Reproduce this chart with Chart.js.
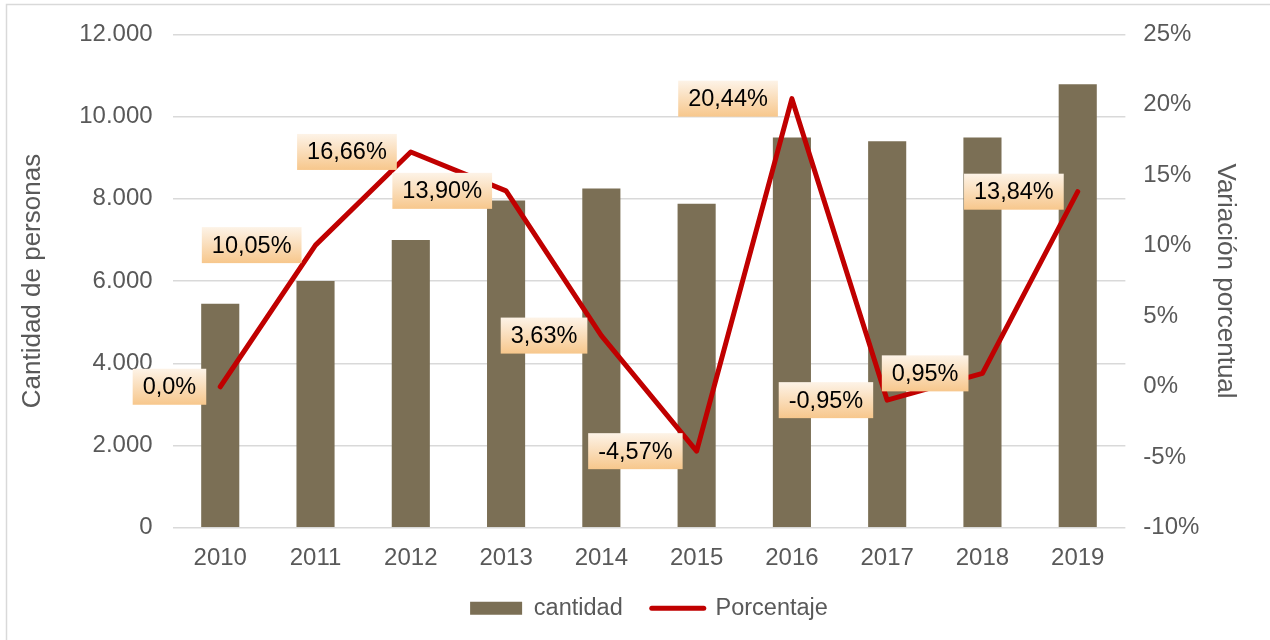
<!DOCTYPE html>
<html>
<head>
<meta charset="utf-8">
<script src="https://cdn.jsdelivr.net/npm/chart.js@4.4.1/dist/chart.umd.min.js"></script>
<style>
  html, body { margin: 0; padding: 0; background: #fff; }
  #wrap { width: 1270px; height: 640px; position: relative; }
</style>
</head>
<body>
<div id="wrap"><canvas id="chart" width="1270" height="640"></canvas></div>
<script>
const years = ["2010", "2011", "2012", "2013", "2014", "2015", "2016", "2017", "2018", "2019"];
const cantidad = [5450, 6000, 7000, 7960, 8250, 7880, 9490, 9400, 9490, 10790];
const porcentaje = [0, 10.05, 16.66, 13.90, 3.63, -4.57, 20.44, -0.95, 0.95, 13.84];
const porcentajeLabels = ["0,0%", "10,05%", "16,66%", "13,90%", "3,63%", "-4,57%", "20,44%", "-0,95%", "0,95%", "13,84%"];

const FONT = "'Liberation Sans', Arial, sans-serif";

// frame around the chart
const framePlugin = {
  id: "frame",
  beforeDraw(chart) {
    const ctx = chart.ctx;
    ctx.save();
    ctx.strokeStyle = "#d9d9d9";
    ctx.lineWidth = 1.5;
    ctx.strokeRect(6.5, 4.5, 1300, 700);
    ctx.restore();
  }
};

// boxed labels to the left of each line point
const labelPlugin = {
  id: "pctLabels",
  afterDatasetsDraw(chart) {
    const ctx = chart.ctx;
    const meta = chart.getDatasetMeta(1);
    ctx.save();
    ctx.font = "23.5px " + FONT;
    ctx.textBaseline = "middle";
    ctx.textAlign = "center";
    meta.data.forEach((pt, i) => {
      const txt = porcentajeLabels[i];
      const w = ctx.measureText(txt).width + 20;
      const h = 36;
      const right = pt.x - 14;
      const left = right - w;
      const top = pt.y - h / 2;
      const g = ctx.createLinearGradient(0, top, 0, top + h);
      g.addColorStop(0, "#fdf3e7");
      g.addColorStop(1, "#f7c78c");
      ctx.fillStyle = g;
      ctx.fillRect(left, top, w, h);
      ctx.fillStyle = "#000";
      ctx.fillText(txt, left + w / 2, pt.y + 1);
    });
    ctx.restore();
  }
};

new Chart(document.getElementById("chart"), {
  type: "bar",
  data: {
    labels: years,
    datasets: [
      {
        type: "bar",
        label: "cantidad",
        data: cantidad,
        backgroundColor: "#7b6f55",
        yAxisID: "y",
        categoryPercentage: 1,
        barPercentage: 0.4,
        order: 2
      },
      {
        type: "line",
        label: "Porcentaje",
        data: porcentaje,
        borderColor: "#c00000",
        backgroundColor: "#c00000",
        borderWidth: 5,
        pointRadius: 0,
        tension: 0,
        borderCapStyle: "round",
        borderJoinStyle: "round",
        yAxisID: "y1",
        order: 1
      }
    ]
  },
  options: {
    responsive: false,
    animation: false,
    layout: { padding: { left: 6, right: 37, top: 22, bottom: 10 } },
    plugins: {
      tooltip: { enabled: false },
      legend: {
        position: "bottom",
        fullSize: false,
        labels: {
          font: { family: FONT, size: 23.5 },
          color: "#595959",
          usePointStyle: true,
          pointStyleWidth: 52,
          boxHeight: 13,
          padding: 16,
          generateLabels(chart) {
            return [
              { text: "cantidad  ", fillStyle: "#7b6f55", strokeStyle: "#7b6f55", lineWidth: 0, pointStyle: "rect", datasetIndex: 0, fontColor: "#595959" },
              { text: "Porcentaje", fillStyle: "#c00000", strokeStyle: "#c00000", lineWidth: 5, lineCap: "round", pointStyle: "line", datasetIndex: 1, fontColor: "#595959" }
            ];
          }
        }
      }
    },
    scales: {
      x: {
        grid: { display: false },
        border: { display: false },
        ticks: { font: { family: FONT, size: 24 }, color: "#595959", padding: 8 }
      },
      y: {
        position: "left",
        min: 0,
        max: 12000,
        ticks: {
          stepSize: 2000,
          font: { family: FONT, size: 24 },
          color: "#595959",
          padding: 20,
          callback: (v) => v.toLocaleString("de-DE")
        },
        grid: { color: "#d9d9d9", lineWidth: 1.5, drawTicks: false },
        border: { display: false },
        title: { display: true, text: "Cantidad de personas", font: { family: FONT, size: 26 }, color: "#595959", padding: 11 }
      },
      y1: {
        position: "right",
        min: -10,
        max: 25,
        ticks: {
          stepSize: 5,
          font: { family: FONT, size: 24 },
          color: "#595959",
          padding: 18,
          callback: (v) => v + "%"
        },
        grid: { display: false, drawTicks: false },
        border: { display: false },
        title: { display: true, text: "Variación porcentual", font: { family: FONT, size: 26, lineHeight: 0.6 }, color: "#595959", padding: 0 }
      }
    }
  },
  plugins: [framePlugin, labelPlugin]
});
</script>
</body>
</html>
